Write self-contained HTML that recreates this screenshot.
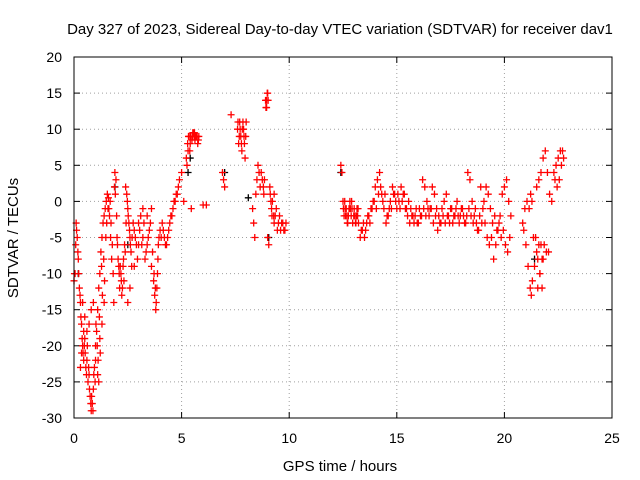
<!DOCTYPE html>
<html><head><meta charset="utf-8"><style>
body{margin:0;background:#fff;}
svg{display:block;font-family:"Liberation Sans",sans-serif;}
</style></head><body>
<svg id="chart" width="640" height="480" xmlns="http://www.w3.org/2000/svg">
<rect width="640" height="480" fill="#fff"/>
<text x="340" y="34" font-size="15" text-anchor="middle">Day 327 of 2023, Sidereal Day-to-day VTEC variation (SDTVAR) for receiver dav1</text>
<text x="340" y="471" font-size="15" text-anchor="middle">GPS time / hours</text>
<text x="18" y="238" font-size="15" text-anchor="middle" transform="rotate(-90 18 238)">SDTVAR / TECUs</text>
<g id="grid"></g><g id="ticks"></g><g id="marks"></g>
<rect x="74" y="57" width="538" height="361" fill="none" stroke="#000" stroke-width="1"/>
</svg>
<script>
const xTicks=[0,5,10,15,20,25];
const yTicks=[20,15,10,5,0,-5,-10,-15,-20,-25,-30];
const tRed=[0,0.05,0.1,0.15,0.2,0.25,0.3,0.35,0.4,0.45,0.5,0.55,0.6,0.65,0.7,0.75,0.8,0.85,0.9,0.95,1.0,1.05,1.1,1.15,1.2,1.25,1.3,1.35,1.4,1.45,1.5,1.55,1.6,1.65,1.7,1.75,
0.4,0.5,0.6,0.7,0.8,0.9,1.0,1.1,1.15,1.2,1.3,1.4,0.3,0.35,0.45,
1.85,1.9,1.95,2.0,2.05,2.1,2.15,2.2,2.25,2.3,2.35,2.4,2.45,2.5,2.55,2.6,2.65,2.7,2.8,2.9,3.0,3.1,3.2,3.3,3.4,3.5,3.6,3.7,3.75,3.8,3.85,3.9,3.95,4.0,4.1,4.2,4.3,4.4,4.5,4.6,4.7,4.8,4.85,4.9,5.0,5.1,3.6,3.4,3.2,3.0,2.8,2.6,2.5,
5.25,5.3,5.35,5.4,5.5,5.6,5.7,5.75,5.8,5.45,6.0,6.15,
6.9,6.95,7.0,7.3,7.6,7.65,7.7,7.75,7.8,7.85,7.9,8.0,7.95,
8.3,8.35,8.4,8.45,8.5,8.55,8.6,8.65,8.9,8.95,9.0,9.05,9.0,
9.1,9.15,9.2,9.3,9.4,9.5,9.6,9.7,9.8,8.8,8.7,9.3,
12.4,12.45,12.5,12.6,12.7,12.8,12.9,13.0,13.1,13.2,13.3,
13.4,13.5,13.6,13.7,13.8,13.9,14.0,14.1,14.2,14.3,14.4,14.5,14.6,14.7,14.8,14.9,15.0,15.1,15.2,15.3,15.4,15.5,15.6,15.7,15.8,15.9,16.0,16.1,16.2,16.3,16.4,16.5,16.6,16.7,16.8,16.9,17.0,17.1,17.2,17.3,17.4,17.5,17.6,17.7,17.8,17.9,18.0,18.1,18.2,18.3,18.4,18.5,18.6,18.7,18.8,18.9,19.0,19.1,19.2,19.3,19.4,19.5,19.6,19.7,19.8,19.9,20.0,20.1,20.2,20.3,
20.9,21.0,21.1,21.2,21.25,21.3,21.4,21.5,21.6,21.7,21.8,21.5,21.6,21.7,21.8,21.9,22.0,22.1,22.2,22.3,22.4,22.5,22.6,22.7];
const vRed=[-11,-10,-3,-5,-8,-12,-14,-17,-20,-22,-19,-23,-22,-25,-24,-27,-29,-28,-26,-23,-20,-18,-15,-12,-10,-7,-5,-3,-2,-1,0,1,0.5,-2,-5,-8,
-14,-16,-18,-17,-15,-14,-22,-24,-25,-19,-17,-14,-23,-21,-18,
-14,4,3,-5,-8,-10,-9,-11,-12,-8,-6,2,1,-1,-3,-5,-7,-5,-4,-6,-3,-2,-5,-8,-6,-4,-9,-11,-13,-15,-12,-8,-5,-4,-3,-5,-6,-4,-2,-1,0,1,2,3,4,0,-1,-2,-1,-6,-9,-12,-14,
5,7,9,8,9,9.5,9,8,9,-1,-0.5,-0.5,
4,3,2,12,10,8,11,9,7,11,9,11,6,
-1,-3,-5,1,3,5,4,2,14,13,15,-6,-5,
2,0,-2,1,-1,-3,-4,-3,-4,2,4,-3,
5,4,0,-1,-3,-1,0,-2,-3,-1,-5,
-4,-5,-3,-2,-1,0,2,3,4,1,-1,-3,-2,0,2,1,-1,0,2,1,-1,-2,-3,-2,-3,-1,-3,-2,3,2,0,-2,-1,-3,-2,-4,-3,-1,0,1,-2,-1,-3,-2,0,-3,-1,-2,-3,4,3,0,-2,-3,-4,2,-1,-3,-5,-6,-5,-8,-6,-4,-2,1,2,3,0,-2,
-4,-6,-9,-12,-13,-11,-9,-7,-6,-6,-8,2,3,4,6,7,4,1,0,4,5,6,7,7];
const tRed2=[0.02,0.08,0.12,0.18,0.22,0.28,0.32,0.38,0.42,0.48,0.52,0.58,0.62,0.68,0.72,0.78,0.82,0.88,0.92,0.98,1.02,1.08,1.12,1.18,1.22,1.28,1.32,1.38,1.42,1.48,1.52,1.58,1.62,1.68,1.72,1.78,1.82,1.88,1.92,1.98,2.02,2.08,2.12,2.18,2.22,2.28,2.32,2.38,2.42,2.48,2.52,2.58,2.62,2.68,2.75,2.85,2.95,3.05,3.15,3.25,3.35,3.45,3.55,3.65,3.72,3.78,3.82,3.88,3.92,4.05,4.15,4.25,4.35,4.45,4.55,4.65,4.75,
5.22,5.28,5.32,5.38,5.42,5.48,5.52,5.58,5.62,5.68,5.72,5.78,5.55,5.65,
7.62,7.68,7.72,7.78,7.82,7.88,7.92,7.98,8.95,8.98,9.02,8.92,8.75,8.82,8.85,9.12,9.18,9.22,9.28,9.35,9.45,9.55,9.65,9.75,9.85,
12.52,12.55,12.58,12.62,12.65,12.68,12.72,12.75,12.78,12.82,12.85,12.88,12.92,12.95,13.02,13.05,13.08,13.12,13.15,13.18,13.22,13.35,13.45,13.55,13.65,13.75,13.85,13.95,14.05,14.15,14.25,14.35,14.45,14.55,14.65,14.75,14.85,14.95,15.05,15.15,15.25,15.35,15.45,15.55,15.65,15.75,15.85,15.95,16.05,16.15,16.25,16.35,16.45,16.55,16.65,16.75,16.85,16.95,17.05,17.15,17.25,17.35,17.45,17.55,17.65,17.75,17.85,17.95,18.05,18.15,18.25,18.35,18.45,18.55,18.65,18.75,18.85,18.95,19.05,19.15,19.25,19.35,19.45,19.55,19.65,19.75,19.85,19.95,20.05,20.15,20.25,
20.85,20.95,21.05,21.15,21.22,21.28,21.35,21.45,21.55,21.65,21.75,21.55,21.65,21.75,21.85,21.95,22.05,22.35,22.45,22.55,22.65,22.75];
const vRed2=[-10,-6,-4,-7,-10,-13,-16,-19,-21,-20,-21,-24,-20,-23,-26,-28,-27,-29,-24,-25,-17,-20,-22,-16,-21,-9,-13,-8,-11,-5,-3,-1,-1,0,-3,-6,-10,2,1,-2,-6,-9,-12,-10,-13,-9,-11,-7,-3,0,-2,-4,-6,-9,-3,-5,-8,-4,-6,-3,-7,-5,-3,-7,-10,-12,-14,-10,-6,-5,-4,-6,-5,-3,-2,0,1,
6,8,9,7,9,8.5,9.5,9,8.5,9,9,8.5,9.5,9,
11,9,10,8,10,10,8,9,14,15,14,13,3,1,3,1,-1,0,-2,-2,-4,-2,-3,-4,-3,
-1,-2,0,-2,-1,-2,-3,-2,-1,0,-1,-2,-1,-3,-1,-2,-3,-2,-1,-2,-3,-4,-3,-4,-2,-3,-1,0,-1,1,2,0,1,-2,-1,-1,1,0,1,-1,0,1,-1,0,-1,-2,-2,-3,-1,-2,-1,-2,-1,-1,2,1,-1,-2,-3,-2,-3,-2,-3,-1,-2,-1,-2,-2,-1,-3,-2,-1,-2,-3,-1,-4,-2,-3,0,2,1,-1,-3,-2,-4,-3,-5,-4,-6,-7,-5,-3,-1,0,-1,1,0,
-5,-5,-8,-10,-12,-12,-10,-8,-6,-7,-7,3,2,3,5,6,5,5,6,6,7,6];
const tBlack=[0.2,1.9,2.5,5.3,5.4,7.0,8.1,9.05,12.4,21.4];
const vBlack=[-10,2,-6,4,6,4,0.5,-5,4,-8];
const X0=74,X1=612,Y0=418,Y1=57;
const xs=t=>X0+(t-0)/(25-0)*(X1-X0);
const ys=v=>Y0-(v+30)/(50)*(Y0-Y1);
const NS="http://www.w3.org/2000/svg";
function mk(tag,attrs,parent){const e=document.createElementNS(NS,tag);for(const k in attrs)e.setAttribute(k,attrs[k]);parent.appendChild(e);return e;}
const grid=document.getElementById('grid'),ticks=document.getElementById('ticks'),marks=document.getElementById('marks');
xTicks.forEach(t=>{const x=xs(t);
 if(t>0&&t<25){const g=mk('line',{x1:x,x2:x,y1:Y0,y2:Y1,stroke:'#a0a0a0','stroke-dasharray':'1,3'},grid);
 
 }
 mk('line',{x1:x,x2:x,y1:Y0,y2:Y0-6,stroke:'#000'},ticks);
 mk('line',{x1:x,x2:x,y1:Y1,y2:Y1+6,stroke:'#000'},ticks);
 const l=mk('text',{x:x,y:443,'font-size':14,'text-anchor':'middle'},ticks);l.textContent=t;
 
 });
yTicks.forEach(v=>{const y=ys(v);
 if(v>-30&&v<20){const g=mk('line',{x1:X0,x2:X1,y1:y,y2:y,stroke:'#a0a0a0','stroke-dasharray':'1,3'},grid);
 
 }
 mk('line',{x1:X0,x2:X0+6,y1:y,y2:y,stroke:'#000'},ticks);
 mk('line',{x1:X1,x2:X1-6,y1:y,y2:y,stroke:'#000'},ticks);
 const l=mk('text',{x:62,y:y+5,'font-size':14,'text-anchor':'end'},ticks);l.textContent=v;
 
 });
function plus(t,v,col,name){const x=xs(t),y=ys(v);
 const p=mk('path',{d:`M${x-3.5},${y}h7M${x},${y-3.5}v7`,stroke:col,'stroke-width':1.3,fill:'none'},marks);
 
 }
tBlack.forEach((t,i)=>plus(t,vBlack[i],'#000','black-point'));
tRed.forEach((t,i)=>plus(t,vRed[i],'#f00','sdtvar-point'));
tRed2.forEach((t,i)=>plus(t,vRed2[i],'#f00','sdtvar-point'));
</script>
</body></html>
